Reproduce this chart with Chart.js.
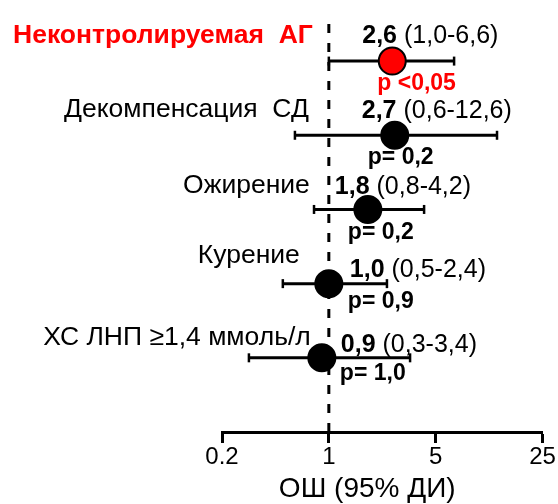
<!DOCTYPE html>
<html>
<head>
<meta charset="utf-8">
<script src="https://cdn.jsdelivr.net/npm/chart.js@4"></script>
<style>
  html, body { margin: 0; padding: 0; background: #fff; }
  #wrap { width: 558px; height: 504px; }
</style>
</head>
<body>
<div id="wrap"><canvas id="forest" width="558" height="504"></canvas></div>
<script>
// Risk factors and their odds ratios with 95% confidence intervals
const factors = ['Неконтролируемая  АГ', 'Декомпенсация  СД', 'Ожирение', 'Курение', 'ХС ЛНП ≥1,4 ммоль/л'];
const oddsRatio = [2.6, 2.7, 1.8, 1.0, 0.9];
const ciLow = [1.0, 0.6, 0.8, 0.5, 0.3];
const ciHigh = [6.6, 12.6, 4.2, 2.4, 3.4];
const pLabels = ['p <0,05', 'p= 0,2', 'p= 0,2', 'p= 0,9', 'p= 1,0'];

// Axis ticks
const tickValues = [0.2, 1, 5, 25];
const tickLabels = ['0.2', '1', '5', '25'];
const axisTitle = 'ОШ (95% ДИ)';

const FONT = "'Liberation Sans', Arial, Helvetica, sans-serif";
const RED = '#ff0000';
const highlightRow = 0;

const fmt = v => v.toFixed(1).replace('.', ',');

// Text placement around each row (pixel offsets from the marker / reference line)
const textLayout = {
  nameRight: [-16, -20, -19, -29, -18],   // right edge relative to OR=1 line
  nameBase:  [-18, -18, -16, -21, -13],
  valueLeft: [-30, -33, -33, 21, 19],     // relative to marker centre
  valueBase: [-18, -17, -15, -7, -6],
  pLeft:     [-15, -27, -20, 19, 18],
  pBase:     [29, 29, 30, 24, 22],
  titleDx: -15,                            // axis title centre relative to plot centre
  titleBase: 497
};

const rowAnnotations = {
  id: 'rowAnnotations',
  afterDatasetsDraw(chart) {
    const { ctx, chartArea, scales: { x, y } } = chart;
    const refX = x.getPixelForValue(1);
    ctx.save();
    ctx.textBaseline = 'alphabetic';
    factors.forEach((name, i) => {
      const px = x.getPixelForValue(oddsRatio[i]);
      const py = y.getPixelForValue(i);
      const hl = i === highlightRow;

      // factor name
      ctx.textAlign = 'right';
      ctx.fillStyle = hl ? RED : '#000';
      ctx.font = (hl ? 'bold ' : '') + '26.5px ' + FONT;
      ctx.fillText(name, refX + textLayout.nameRight[i], py + textLayout.nameBase[i]);

      // odds ratio (bold) followed by the interval
      ctx.textAlign = 'left';
      ctx.fillStyle = '#000';
      const vx = px + textLayout.valueLeft[i];
      const vy = py + textLayout.valueBase[i];
      ctx.font = 'bold 25px ' + FONT;
      const orText = fmt(oddsRatio[i]);
      ctx.fillText(orText, vx, vy);
      const w = ctx.measureText(orText).width;
      ctx.font = '25px ' + FONT;
      ctx.fillText(' (' + fmt(ciLow[i]) + '-' + fmt(ciHigh[i]) + ')', vx + w, vy);

      // p value
      ctx.fillStyle = hl ? RED : '#000';
      ctx.font = 'bold 23px ' + FONT;
      ctx.fillText(pLabels[i], px + textLayout.pLeft[i], py + textLayout.pBase[i]);
    });

    // axis title
    ctx.textAlign = 'center';
    ctx.fillStyle = '#000';
    ctx.font = '28px ' + FONT;
    ctx.fillText(axisTitle, (chartArea.left + chartArea.right) / 2 + textLayout.titleDx, textLayout.titleBase);
    ctx.restore();
  }
};

// Confidence interval whiskers, one line dataset per row
const ciSets = factors.map((f, i) => ({
  type: 'line',
  data: [{ x: ciLow[i], y: i }, { x: ciHigh[i], y: i }],
  borderColor: '#000',
  borderWidth: 3,
  pointStyle: 'line',
  pointRotation: 90,
  pointRadius: 4.5,
  pointBorderWidth: 2.5,
  pointBorderColor: '#000',
  pointBackgroundColor: '#000',
  order: 1,
  clip: false
}));

const datasets = [
  {
    type: 'scatter',
    data: oddsRatio.map((v, i) => ({ x: v, y: i })),
    pointRadius: 13.5,
    pointBorderWidth: 2,
    pointBorderColor: '#000',
    pointBackgroundColor: oddsRatio.map((v, i) => i === highlightRow ? RED : '#000'),
    order: 0,
    clip: false
  },
  ...ciSets,
  {
    type: 'line',
    data: [{ x: 1, y: -0.5 }, { x: 1, y: 5 }],
    borderColor: '#000',
    borderWidth: 3,
    borderDash: [9, 10],
    pointRadius: 0,
    order: 2,
    clip: false
  }
];

new Chart(document.getElementById('forest'), {
  type: 'scatter',
  data: { datasets },
  options: {
    responsive: false,
    animation: false,
    events: [],
    layout: { padding: { left: 222, right: 15, top: 24, bottom: 32.2 } },
    plugins: { legend: { display: false }, tooltip: { enabled: false } },
    scales: {
      x: {
        type: 'logarithmic',
        min: 0.2,
        max: 25,
        afterBuildTicks: axis => { axis.ticks = tickValues.map(v => ({ value: v })); },
        ticks: {
          color: '#000',
          padding: 0,
          maxRotation: 0,
          autoSkip: false,
          font: { family: FONT, size: 24 },
          callback: (val, idx) => tickLabels[idx]
        },
        grid: {
          display: true,
          drawOnChartArea: false,
          drawTicks: true,
          tickLength: 11,
          tickWidth: 3,
          tickColor: '#000'
        },
        border: { display: true, color: '#000', width: 3 },
        title: { display: false }
      },
      y: {
        type: 'linear',
        min: -0.5,
        max: 5,
        reverse: true,
        display: false
      }
    }
  },
  plugins: [rowAnnotations]
});
</script>
</body>
</html>
